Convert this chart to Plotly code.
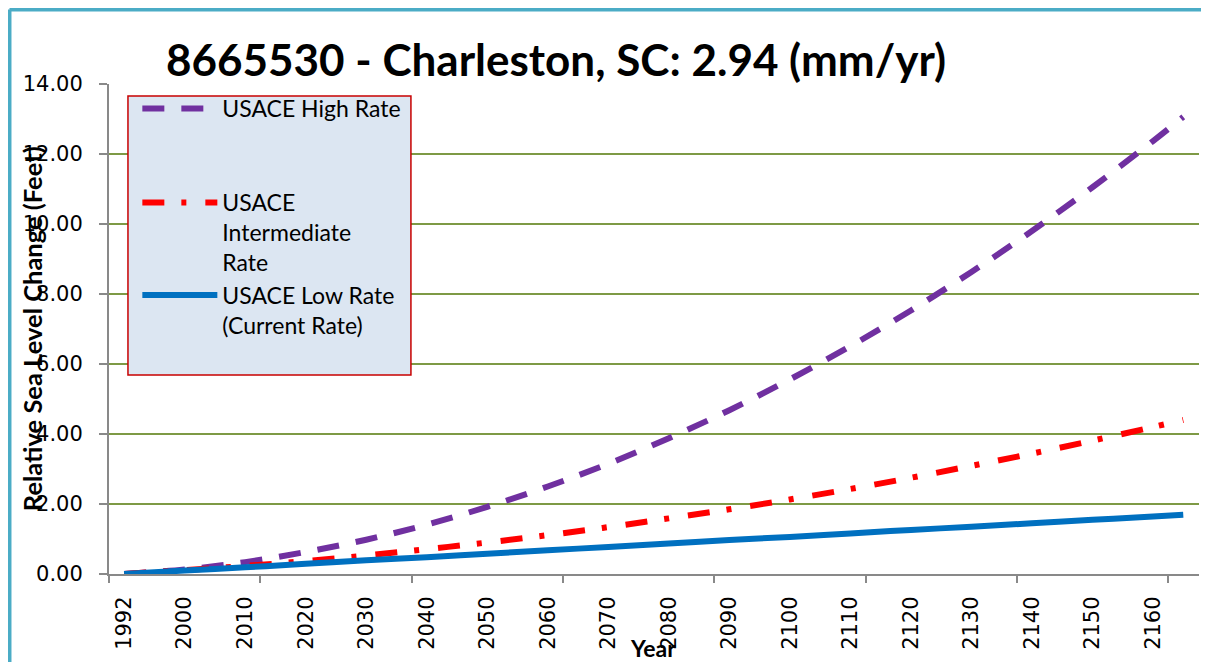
import plotly.graph_objects as go

# Excel category slots: the first row (1992) sits in the 1990 slot, the last row is 2165
year_slot = [1990, 2000, 2010, 2020, 2030, 2040, 2050, 2060, 2070, 2080, 2090,
             2100, 2110, 2120, 2130, 2140, 2150, 2160, 2165]
tick_slots = [1990, 2000, 2010, 2020, 2030, 2040, 2050, 2060, 2070, 2080, 2090,
              2100, 2110, 2120, 2130, 2140, 2150, 2160]
tick_labels = ["1992", "2000", "2010", "2020", "2030", "2040", "2050", "2060", "2070",
               "2080", "2090", "2100", "2110", "2120", "2130", "2140", "2150", "2160"]
tick_marks = [1987.5, 2012.5, 2037.5, 2062.5, 2087.5, 2112.5, 2137.5, 2162.5]

# relative sea level change (feet)
high_rate = [0.00, 0.13, 0.34, 0.63, 0.98, 1.41, 1.92, 2.50, 3.15, 3.88, 4.68,
             5.56, 6.51, 7.53, 8.63, 9.80, 11.05, 12.37, 13.06]
inter_rate = [0.00, 0.11, 0.23, 0.37, 0.53, 0.71, 0.90, 1.11, 1.34, 1.59, 1.85,
              2.13, 2.43, 2.75, 3.09, 3.44, 3.81, 4.20, 4.40]
low_rate = [0.00, 0.10, 0.19, 0.29, 0.39, 0.48, 0.58, 0.68, 0.77, 0.87, 0.97,
            1.06, 1.16, 1.26, 1.35, 1.45, 1.55, 1.64, 1.69]

y_ticks = [0, 2, 4, 6, 8, 10, 12, 14]

X_RANGE = [1987.5, 2167.6]
GREY = '#898989'
LEG_FONT = dict(family='Lato', size=23, color='#000000')
TICK_FONT = dict(family='DejaVu Sans', size=21, color='#000000')

fig = go.Figure()

fig.add_trace(go.Scatter(
    x=year_slot, y=high_rate, mode='lines', name='USACE High Rate',
    line=dict(color='#7030A0', width=6, dash='22px,17px', shape='spline'),
    legend='legend'
))
fig.add_trace(go.Scatter(
    x=year_slot, y=inter_rate, mode='lines', name='USACE<br>Intermediate<br>Rate',
    line=dict(color='#FF0000', width=6, dash='22px,17px,5px,19px', shape='spline'),
    legend='legend2'
))
fig.add_trace(go.Scatter(
    x=year_slot, y=low_rate, mode='lines', name='USACE Low Rate<br>(Current Rate)',
    line=dict(color='#0070C0', width=6, shape='spline'),
    legend='legend3'
))

# invisible trace just to carry the tick marks axis
fig.add_trace(go.Scatter(x=X_RANGE, y=[0, 0], mode='lines', line=dict(width=0),
                         xaxis='x2', showlegend=False, hoverinfo='skip'))

# legend box
fig.add_shape(type='rect', xref='paper', yref='paper',
              x0=0.0174, x1=0.277, y0=0.406, y1=0.9755,
              fillcolor='#DCE6F2', line=dict(color='#C80000', width=1.5), layer='above')

# outer frame (teal)
fig.add_shape(type='line', xref='paper', yref='paper', x0=-0.0913, x1=-0.0913,
              y0=1.152, y1=-0.25, line=dict(color='#4BACC6', width=4))
fig.add_shape(type='line', xref='paper', yref='paper', x0=-0.0913, x1=1.02,
              y0=1.152, y1=1.152, line=dict(color='#4BACC6', width=4))

leg_common = dict(bgcolor='rgba(0,0,0,0)', borderwidth=0, font=LEG_FONT,
                  xanchor='left', yanchor='top', valign='top', itemwidth=75,
                  itemclick=False, itemdoubleclick=False)

fig.update_layout(
    width=1201, height=654,
    paper_bgcolor='#FFFFFF', plot_bgcolor='#FFFFFF',
    margin=dict(l=101, r=10, t=76, b=88),
    legend=dict(x=0.026, y=0.994, **leg_common),
    legend2=dict(x=0.026, y=0.802, **leg_common),
    legend3=dict(x=0.026, y=0.613, **leg_common),
    xaxis=dict(range=X_RANGE, tickmode='array', tickvals=tick_slots, ticktext=tick_labels,
               tickangle=-90, ticks='', showgrid=False, zeroline=False,
               showline=True, linecolor=GREY, linewidth=2,
               tickfont=TICK_FONT, ticklabelstandoff=12),
    xaxis2=dict(range=X_RANGE, overlaying='x', anchor='y', side='bottom',
                tickmode='array', tickvals=tick_marks, ticks='outside', ticklen=8,
                tickwidth=2, tickcolor=GREY, showticklabels=False,
                showgrid=False, zeroline=False, showline=False),
    yaxis=dict(range=[0, 14], tickmode='array', tickvals=y_ticks, tickformat='.2f',
               ticks='outside', ticklen=8, tickwidth=2, tickcolor=GREY,
               showline=True, linecolor=GREY, linewidth=2,
               showgrid=True, gridcolor='#7E9A45', gridwidth=2, zeroline=False,
               tickfont=TICK_FONT, ticklabelstandoff=12),
    annotations=[
        dict(text='<b>8665530 - Charleston, SC: 2.94 (mm/yr)</b>', xref='paper', yref='paper',
             x=0.410, y=1.05, xanchor='center', yanchor='middle', showarrow=False,
             font=dict(family='Lato', size=44, color='#000000')),
        dict(text='<b>Relative Sea Level Change (Feet)</b>', xref='paper', yref='paper',
             x=-0.0705, y=0.5, xanchor='center', yanchor='middle', textangle=-90,
             showarrow=False, font=dict(family='Lato', size=25.5, color='#000000')),
        dict(text='<b>Year</b>', xref='paper', yref='paper',
             x=0.499, y=-0.151, xanchor='center', yanchor='middle', showarrow=False,
             font=dict(family='Lato', size=23, color='#000000')),
    ],
)

fig.write_html("out.html")
